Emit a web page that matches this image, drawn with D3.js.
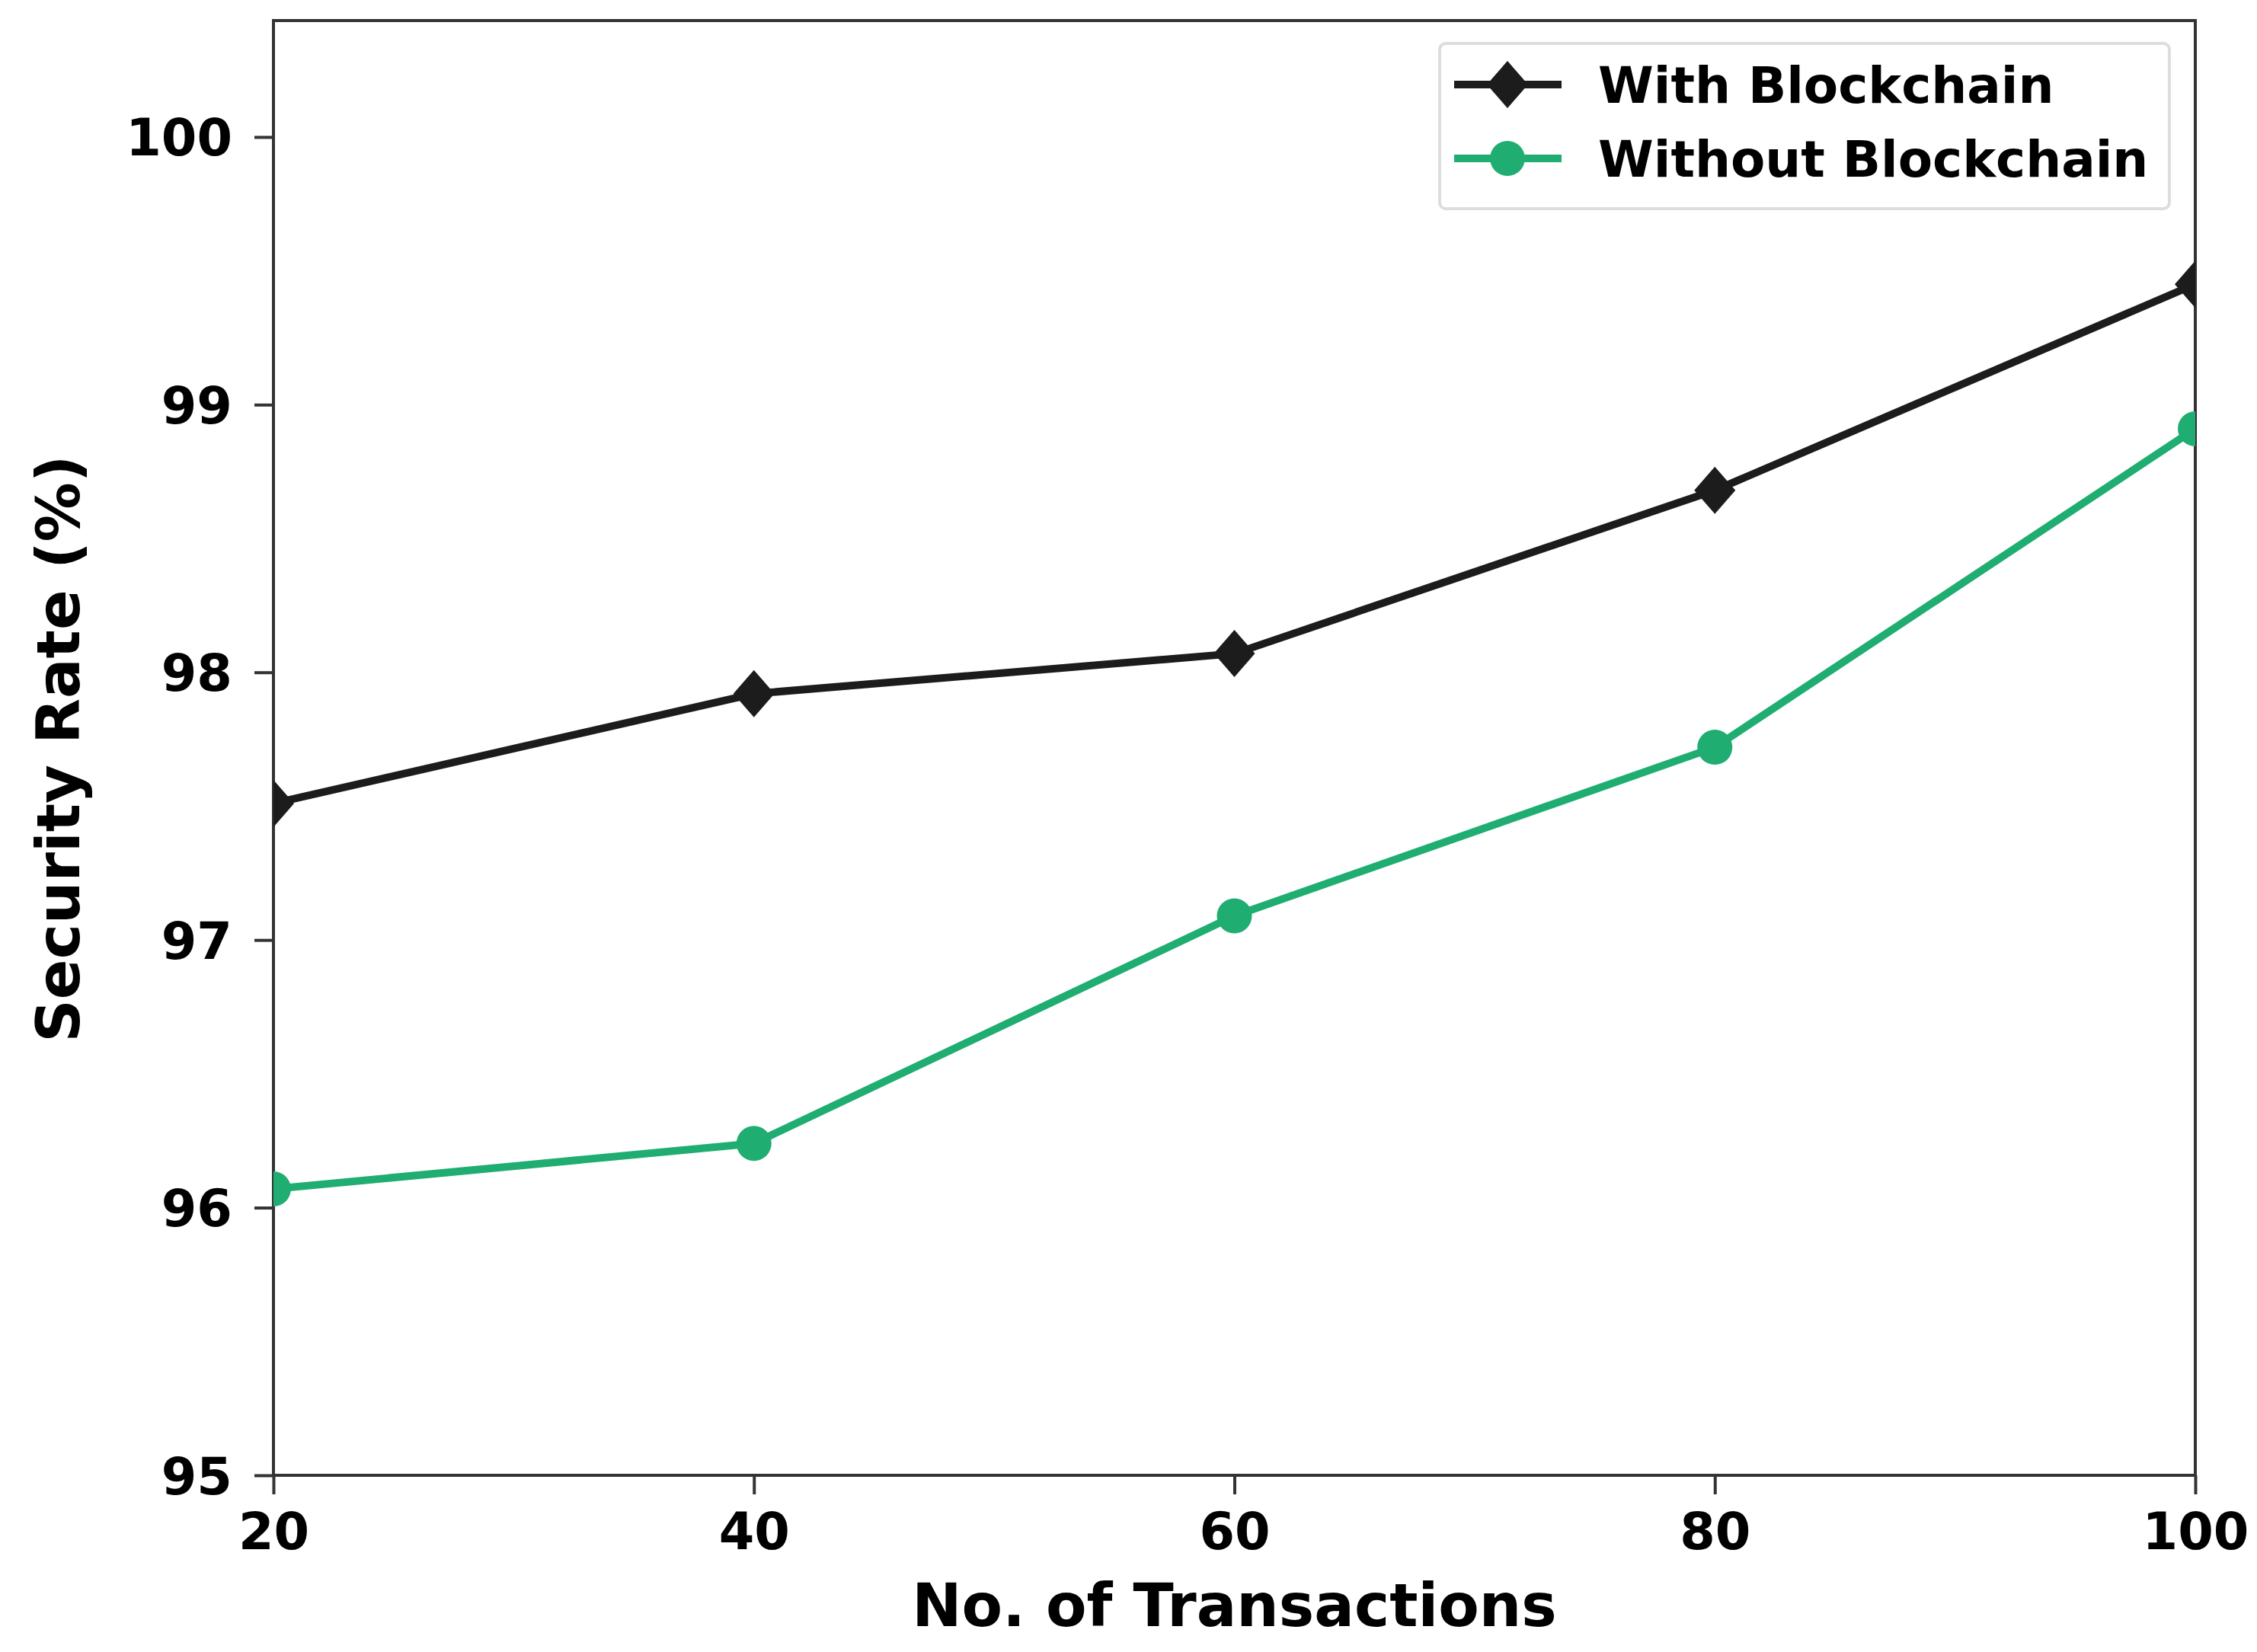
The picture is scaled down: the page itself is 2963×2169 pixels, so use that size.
<!DOCTYPE html>
<html><head><meta charset="utf-8">
<script src="https://cdn.jsdelivr.net/npm/d3@7"></script>
<style>html,body{margin:0;padding:0;background:#fff;}svg{display:block;}</style>
</head><body>
<script>
const transactions = [20, 40, 60, 80, 100];
const withBlockchain = [97.51, 97.92, 98.07, 98.68, 99.45];
const withoutBlockchain = [96.07, 96.24, 97.09, 97.72, 98.91];
const xTicks = [20, 40, 60, 80, 100];
const yTicks = [95, 96, 97, 98, 99, 100];
const seriesNames = ["With Blockchain", "Without Blockchain"];

const W = 2963, H = 2169;
const m = {left: 359, right: 2882, top: 27, bottom: 1937};
const font = "'DejaVu Sans', sans-serif";
const colBlack = "#1c1c1c", colGreen = "#1fad72";

const svg = d3.select("body").append("svg").attr("width", W).attr("height", H);
const x = d3.scaleLinear().domain([20, 100]).range([m.left, m.right]);
const y = d3.scaleLinear().domain([95, 100.435]).range([m.bottom, m.top]);

svg.append("defs").append("clipPath").attr("id", "clip")
  .append("rect").attr("x", m.left).attr("y", m.top)
  .attr("width", m.right - m.left).attr("height", m.bottom - m.top);

// axes
const xAxis = svg.append("g").attr("transform", `translate(0,${m.bottom})`)
  .call(d3.axisBottom(x).tickValues(xTicks).tickFormat(d3.format("d")).tickSize(25).tickPadding(24).tickSizeOuter(0));
const yAxis = svg.append("g").attr("transform", `translate(${m.left},0)`)
  .call(d3.axisLeft(y).tickValues(yTicks).tickFormat(d3.format("d")).tickSize(25).tickPadding(29).tickSizeOuter(0));
[xAxis, yAxis].forEach(g => {
  g.select(".domain").remove();
  g.selectAll(".tick line").attr("stroke", "#333").attr("stroke-width", 4);
  g.selectAll(".tick text").attr("font-family", font).attr("font-weight", "bold")
    .attr("font-size", 67).attr("fill", "#000");
});
yAxis.selectAll(".tick text").attr("dy", "0.36em");

// frame
svg.append("rect").attr("x", m.left).attr("y", m.top)
  .attr("width", m.right - m.left).attr("height", m.bottom - m.top)
  .attr("fill", "none").attr("stroke", "#333").attr("stroke-width", 4);

const plot = svg.append("g").attr("clip-path", "url(#clip)");
const line = d3.line().x((d, i) => x(transactions[i])).y(d => y(d));

const series = [
  {name: seriesNames[0], values: withBlockchain, color: colBlack, marker: "diamond"},
  {name: seriesNames[1], values: withoutBlockchain, color: colGreen, marker: "circle"}
];

function drawMarker(g, s, cx, cy) {
  if (s.marker === "diamond") {
    g.append("path").attr("d", "M0,-31L27,0L0,31L-27,0Z")
      .attr("transform", `translate(${cx},${cy})`).attr("fill", s.color);
  } else {
    g.append("circle").attr("cx", cx).attr("cy", cy).attr("r", 23).attr("fill", s.color);
  }
}

series.forEach(s => {
  plot.append("path").datum(s.values).attr("d", line)
    .attr("fill", "none").attr("stroke", s.color).attr("stroke-width", 10)
    .attr("stroke-linejoin", "round");
  s.values.forEach((v, i) => drawMarker(plot, s, x(transactions[i]), y(v)));
});

// legend
const lg = svg.append("g");
lg.append("rect").attr("x", 1890).attr("y", 57).attr("width", 958).attr("height", 217)
  .attr("rx", 8).attr("fill", "#fff").attr("stroke", "#ddd").attr("stroke-width", 4);
series.forEach((s, i) => {
  const cy = 111 + i * 97;
  lg.append("line").attr("x1", 1909).attr("x2", 2050).attr("y1", cy).attr("y2", cy)
    .attr("stroke", s.color).attr("stroke-width", 10);
  drawMarker(lg, s, 1979, cy);
  lg.append("text").attr("x", 2098).attr("y", cy).attr("dy", "0.36em")
    .attr("font-family", font).attr("font-weight", "bold").attr("font-size", 66)
    .attr("fill", "#000").text(s.name);
});

// axis labels
svg.append("text").attr("x", (m.left + m.right) / 2 - 0).attr("y", 2135)
  .attr("text-anchor", "middle").attr("font-family", font).attr("font-weight", "bold")
  .attr("font-size", 78).attr("fill", "#000").text("No. of Transactions");
svg.append("text").attr("transform", `translate(104,983) rotate(-90)`)
  .attr("text-anchor", "middle").attr("font-family", font).attr("font-weight", "bold")
  .attr("font-size", 78).attr("fill", "#000").text("Security Rate (%)");
</script>
</body></html>
